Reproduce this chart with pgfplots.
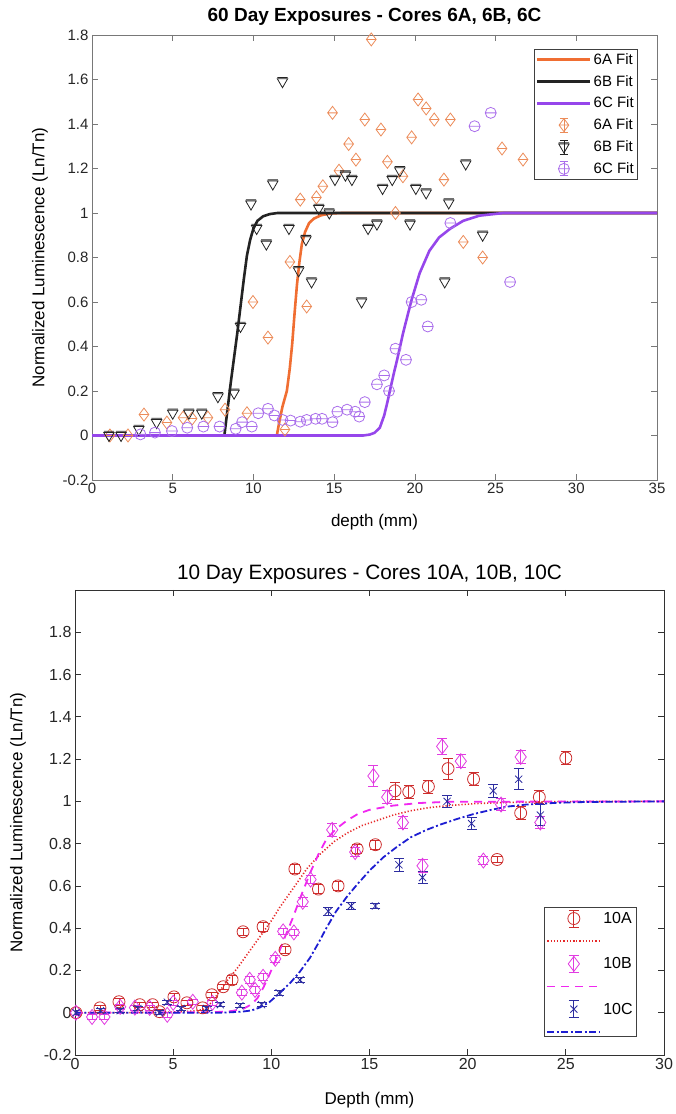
\documentclass[border=0pt]{standalone}
\usepackage{fontspec}
\setmainfont{Liberation Sans}
\usepackage{pgfplots}
\pgfplotsset{compat=1.18}

\definecolor{c6A}{RGB}{240,110,50}
\definecolor{c6Am}{RGB}{236,140,90}
\definecolor{c6B}{RGB}{35,35,35}
\definecolor{c6C}{RGB}{150,70,235}
\definecolor{c6Cm}{RGB}{170,110,235}
\definecolor{c10A}{RGB}{205,45,45}
\definecolor{c10B}{RGB}{225,60,225}
\definecolor{c10C}{RGB}{45,45,160}
\definecolor{l10A}{RGB}{230,40,40}
\definecolor{l10B}{RGB}{240,40,240}
\definecolor{l10C}{RGB}{30,30,210}
\definecolor{frameA}{RGB}{120,120,120}
\definecolor{frameB}{RGB}{50,50,50}

\pgfdeclareplotmark{diamondbar}{%
  \pgfpathmoveto{\pgfqpoint{0pt}{\pgfplotmarksize}}%
  \pgfpathlineto{\pgfqpoint{.75\pgfplotmarksize}{0pt}}%
  \pgfpathlineto{\pgfqpoint{0pt}{-\pgfplotmarksize}}%
  \pgfpathlineto{\pgfqpoint{-.75\pgfplotmarksize}{0pt}}%
  \pgfpathclose
  \pgfpathmoveto{\pgfqpoint{-.75\pgfplotmarksize}{0pt}}%
  \pgfpathlineto{\pgfqpoint{.75\pgfplotmarksize}{0pt}}%
  \pgfusepathqstroke}
\pgfdeclareplotmark{trianglebar}{%
  \pgfpathmoveto{\pgfqpoint{0pt}{-\pgfplotmarksize}}%
  \pgfpathlineto{\pgfqpoint{.866\pgfplotmarksize}{.5\pgfplotmarksize}}%
  \pgfpathlineto{\pgfqpoint{-.866\pgfplotmarksize}{.5\pgfplotmarksize}}%
  \pgfpathclose
  \pgfpathmoveto{\pgfpoint{-.866\pgfplotmarksize}{.5\pgfplotmarksize+1.3pt}}%
  \pgfpathlineto{\pgfpoint{.866\pgfplotmarksize}{.5\pgfplotmarksize+1.3pt}}%
  \pgfusepathqstroke}
\pgfdeclareplotmark{circlebar}{%
  \pgfpathcircle{\pgfpointorigin}{\pgfplotmarksize}%
  \pgfpathmoveto{\pgfqpoint{-\pgfplotmarksize}{0pt}}%
  \pgfpathlineto{\pgfqpoint{\pgfplotmarksize}{0pt}}%
  \pgfusepathqstroke}

\pgfplotsset{
  legend image code/.code={\draw[mark repeat=2,mark phase=2,#1] plot coordinates {(0pt,0pt) (26.5pt,0pt) (53pt,0pt)};},
  markleg/.style n args={3}{legend image code/.code={%
      \draw[##1] plot coordinates {(26.5pt,0pt)};
      \draw[#1,line width=0.8pt] (26.5pt,-#2) -- (26.5pt,#2)
        (26.5pt-#3,#2) -- (26.5pt+#3,#2) (26.5pt-#3,-#2) -- (26.5pt+#3,-#2);}},
  mystyle/.style={
    scale only axis,
    tick align=inside,
    major tick length=6pt,
    /pgf/number format/assume math mode=true,
    ytick={-0.2,0,0.2,0.4,0.6,0.8,1,1.2,1.4,1.6,1.8},
    yticklabels={-0.2,0,0.2,0.4,0.6,0.8,1,1.2,1.4,1.6,1.8},
    legend cell align=left,
  }
}

\begin{document}
\begin{tikzpicture}[x=1pt,y=1pt]
\path[use as bounding box] (0,0) rectangle (676,1114);

% ---------------- Top axis ----------------
\begin{axis}[mystyle,
  at={(92pt,634pt)}, anchor=south west,
  width=565pt, height=445pt,
  xmin=0, xmax=35, ymin=-0.2, ymax=1.8,
  xtick={0,5,...,35},
  axis line style={frameA,line width=0.7pt},
  tick style={frameA,line width=0.7pt},
  tick label style={font=\fontsize{15}{18}\selectfont, text=black!85},
  title={60 Day Exposures - Cores 6A, 6B, 6C},
  title style={font=\fontsize{19}{22}\selectfont\bfseries, at={(axis description cs:0.5,1)}, anchor=center, yshift=12pt},
  xlabel={depth (mm)},
  xlabel style={font=\fontsize{17}{20}\selectfont, at={(axis description cs:0.5,0)}, anchor=center, yshift=-42pt},
  ylabel={Normalized Luminescence (Ln/Tn)},
  ylabel style={font=\fontsize{17}{20}\selectfont, at={(axis description cs:-0.092,0.5)}, anchor=center},
  legend style={at={(axis description cs:0.782,0.9685)}, anchor=north west, draw=black!75, line width=0.6pt,
    font=\fontsize{15}{17}\selectfont, inner sep=2pt, row sep=5.5pt, fill=white},
]
\addplot[c6A, line width=2.6pt] coordinates {(0,0)(11.45,0)(11.6,0.06)(11.8,0.13)(12.07,0.2)(12.25,0.3)(12.4,0.41)(12.55,0.55)(12.7,0.68)(12.85,0.78)(13.0,0.86)(13.2,0.915)(13.45,0.955)(13.75,0.975)(14.2,0.99)(14.8,0.998)(15.5,1)(35,1)};
\addlegendentry{6A Fit}
\addplot[c6B, line width=2.6pt] coordinates {(0,0)(8.2,0)(8.3,0.06)(8.45,0.15)(8.6,0.24)(8.8,0.35)(9.0,0.46)(9.2,0.58)(9.4,0.70)(9.6,0.81)(9.8,0.88)(10.0,0.93)(10.25,0.965)(10.6,0.985)(11.0,0.995)(11.5,1)(35,1)};
\addlegendentry{6B Fit}
\addplot[c6C, line width=2.6pt] coordinates {(0,0)(16.8,0)(17.2,0.004)(17.5,0.012)(17.83,0.035)(18.1,0.09)(18.3,0.15)(18.45,0.2)(18.7,0.28)(18.9,0.34)(19.27,0.46)(19.55,0.54)(19.8,0.61)(20.3,0.73)(20.9,0.83)(21.5,0.89)(22.2,0.93)(23,0.965)(24,0.988)(25.5,1)(35,1)};
\addlegendentry{6C Fit}

\addplot[c6Am, only marks, mark=diamondbar, mark size=6.5pt, line width=0.8pt, markleg={c6Am}{7pt}{4pt}] coordinates {
(1.11,0.0)(2.23,0.0)(3.22,0.094)(4.64,0.058)(5.64,0.08)(6.2,0.076)(7.18,0.08)(8.24,0.116)(9.6,0.10)(9.97,0.60)(10.9,0.44)(11.95,0.027)(12.26,0.78)(12.9,1.06)(13.3,0.58)(13.9,1.07)(14.3,1.12)(14.9,1.45)(15.3,1.19)(15.9,1.31)(16.35,1.24)(16.9,1.42)(17.3,1.78)(17.9,1.375)(18.3,1.23)(18.8,1.0)(19.26,1.165)(19.8,1.34)(20.2,1.51)(20.7,1.47)(21.2,1.42)(21.8,1.15)(22.2,1.42)(23.0,0.87)(24.2,0.80)(25.4,1.29)(26.7,1.24)};
\addlegendentry{6A Fit}
\addplot[c6B, only marks, mark=trianglebar, mark size=6pt, line width=0.8pt, markleg={c6B}{7pt}{4pt}] coordinates {
(1.05,0.0)(1.8,0.0)(2.9,0.027)(4.0,0.058)(5.0,0.10)(6.0,0.10)(6.8,0.10)(7.8,0.174)(8.8,0.19)(9.2,0.49)(9.85,1.04)(10.2,0.93)(10.8,0.86)(11.2,1.13)(11.8,1.59)(12.2,0.93)(12.8,0.74)(13.25,0.88)(13.6,0.69)(14.05,1.02)(14.7,1.0)(15.05,1.15)(15.7,1.17)(16.1,1.15)(16.7,0.60)(17.1,0.93)(17.65,0.95)(18.0,1.11)(18.6,1.15)(19.07,1.19)(19.7,0.95)(20.06,1.11)(20.7,1.09)(21.85,0.69)(22.1,1.045)(23.15,1.22)(24.2,0.90)};
\addlegendentry{6B Fit}
\addplot[c6Cm, only marks, mark=circlebar, mark size=5.5pt, line width=0.8pt, markleg={c6Cm}{7pt}{4pt}] coordinates {
(3.0,0.005)(3.9,0.013)(4.95,0.02)(5.9,0.035)(6.9,0.04)(7.9,0.04)(8.9,0.03)(9.3,0.06)(9.9,0.04)(10.3,0.10)(10.9,0.12)(11.3,0.09)(11.8,0.07)(12.3,0.067)(12.9,0.062)(13.3,0.07)(13.85,0.075)(14.25,0.075)(14.9,0.06)(15.2,0.107)(15.8,0.116)(16.3,0.107)(16.55,0.085)(16.9,0.15)(17.65,0.23)(18.1,0.27)(18.4,0.2)(18.8,0.39)(19.45,0.34)(19.8,0.60)(20.4,0.61)(20.8,0.49)(22.2,0.955)(23.7,1.39)(24.7,1.45)(25.9,0.69)};
\addlegendentry{6C Fit}
\end{axis}

% ---------------- Bottom axis ----------------
\begin{axis}[mystyle,
  at={(75pt,59pt)}, anchor=south west,
  width=589pt, height=465pt,
  xmin=0, xmax=30, ymin=-0.2, ymax=2,
  xtick={0,5,...,30},
  axis line style={frameB,line width=0.7pt},
  tick style={frameB,line width=0.7pt},
  tick label style={font=\fontsize{16}{19}\selectfont, text=black!85},
  title={10 Day Exposures - Cores 10A, 10B, 10C},
  title style={font=\fontsize{20.8}{24}\selectfont, at={(axis description cs:0.5,1)}, anchor=center, yshift=10pt},
  xlabel={Depth (mm)},
  xlabel style={font=\fontsize{17}{20}\selectfont, at={(axis description cs:0.5,0)}, anchor=center, yshift=-45pt},
  ylabel={Normalized Luminescence (Ln/Tn)},
  ylabel style={font=\fontsize{17}{20}\selectfont, at={(axis description cs:-0.097,0.5)}, anchor=center},
  legend style={at={(axis description cs:0.954,0.039)}, anchor=south east, draw=black!75, line width=0.6pt,
    font=\fontsize{16}{18}\selectfont, inner sep=2pt, row sep=11pt, fill=white},
  error bars/error mark options={rotate=90, mark size=5pt, line width=0.8pt},
  error bars/error bar style={line width=0.8pt},
]
\addplot[c10A, only marks, mark=o, mark size=6pt, line width=0.8pt, markleg={c10A}{8.5pt}{5pt},
  error bars/.cd, y dir=both, y explicit] coordinates {
(0.05,0.0) +- (0,0.012) (1.27,0.023) +- (0,0.012) (2.24,0.052) +- (0,0.015) (3.3,0.038) +- (0,0.012) (3.95,0.038) +- (0,0.012)
(4.3,0.005) +- (0,0.012) (5.04,0.075) +- (0,0.015) (5.7,0.047) +- (0,0.012) (6.5,0.023) +- (0,0.012) (6.97,0.085) +- (0,0.012)
(7.55,0.123) +- (0,0.012) (8.0,0.156) +- (0,0.02) (8.56,0.383) +- (0,0.015) (9.58,0.407) +- (0,0.02) (10.7,0.298) +- (0,0.015)
(11.2,0.68) +- (0,0.02) (12.4,0.585) +- (0,0.02) (13.4,0.60) +- (0,0.02) (14.37,0.775) +- (0,0.02) (15.3,0.795) +- (0,0.02)
(16.3,1.05) +- (0,0.04) (17.0,1.045) +- (0,0.03) (18.0,1.07) +- (0,0.03) (19.0,1.155) +- (0,0.05) (20.3,1.105) +- (0,0.03)
(21.5,0.725) +- (0,0.015) (22.7,0.945) +- (0,0.03) (23.65,1.02) +- (0,0.03) (25.0,1.205) +- (0,0.03)};
\addlegendentry{10A}
\addplot[l10A, line width=1.6pt, dash pattern=on 1.2pt off 2pt] coordinates {
(0,0)(4,0.001)(5,0.003)(6,0.008)(6.5,0.015)(6.7,0.02)(7.2,0.08)(7.74,0.15)(8.3,0.215)(8.8,0.28)(9.5,0.37)(10.0,0.435)(10.44,0.50)(11.2,0.60)(11.8,0.68)(12.48,0.75)(13.2,0.81)(13.86,0.85)(14.6,0.885)(15.4,0.91)(16.2,0.935)(17.07,0.955)(18,0.97)(19,0.98)(20.5,0.99)(22,0.995)(25,0.999)(30,1)};
\addlegendentry{\mbox{}}
\addplot[c10B, only marks, mark=diamond, mark size=7.5pt, line width=0.8pt, markleg={c10B}{8.5pt}{5pt},
  error bars/.cd, y dir=both, y explicit] coordinates {
(0.05,0.0) +- (0,0.012) (0.87,-0.02) +- (0,0.012) (1.5,-0.02) +- (0,0.012) (2.3,0.028) +- (0,0.012) (3.05,0.024) +- (0,0.012)
(3.8,0.023) +- (0,0.012) (4.7,-0.01) +- (0,0.012) (5.0,0.047) +- (0,0.012) (6.0,0.052) +- (0,0.012) (7.0,0.047) +- (0,0.012)
(8.5,0.095) +- (0,0.015) (8.9,0.156) +- (0,0.015) (9.17,0.108) +- (0,0.015) (9.58,0.17) +- (0,0.015) (10.2,0.255) +- (0,0.015)
(10.6,0.385) +- (0,0.015) (11.15,0.38) +- (0,0.015) (11.6,0.525) +- (0,0.02) (12.0,0.63) +- (0,0.02) (13.1,0.865) +- (0,0.03)
(14.27,0.76) +- (0,0.02) (15.2,1.12) +- (0,0.05) (15.9,1.02) +- (0,0.03) (16.7,0.90) +- (0,0.03) (17.7,0.695) +- (0,0.03)
(18.7,1.26) +- (0,0.04) (19.65,1.19) +- (0,0.03) (20.8,0.72) +- (0,0.02) (21.7,0.985) +- (0,0.03) (22.7,1.21) +- (0,0.03)
(23.7,0.90) +- (0,0.03)};
\addlegendentry{10B}
\addplot[l10B, line width=1.8pt, dash pattern=on 8pt off 6pt] coordinates {
(0,0)(7,0.002)(8,0.008)(8.6,0.02)(9.0,0.04)(9.3,0.07)(9.6,0.12)(9.9,0.18)(10.3,0.265)(10.7,0.36)(11.1,0.45)(11.5,0.55)(11.97,0.66)(12.4,0.75)(12.8,0.82)(13.3,0.87)(13.86,0.91)(14.4,0.94)(15,0.96)(16.2,0.98)(17.5,0.992)(19,0.998)(30,1)};
\addlegendentry{\mbox{}}
\addplot[c10C, only marks, mark=x, mark size=5pt, line width=0.8pt, markleg={c10C}{8.5pt}{5pt},
  error bars/.cd, y dir=both, y explicit] coordinates {
(0.05,0.0) +- (0,0.01) (1.3,0.01) +- (0,0.01) (2.3,0.01) +- (0,0.01) (3.2,0.02) +- (0,0.01) (4.3,0.0) +- (0,0.01)
(4.7,0.05) +- (0,0.01) (5.4,0.02) +- (0,0.01) (6.7,0.02) +- (0,0.01) (7.4,0.038) +- (0,0.01) (8.4,0.033) +- (0,0.01)
(9.5,0.038) +- (0,0.01) (10.4,0.094) +- (0,0.01) (11.46,0.155) +- (0,0.01) (12.9,0.48) +- (0,0.02) (14.06,0.505) +- (0,0.015)
(15.3,0.505) +- (0,0.01) (16.5,0.70) +- (0,0.03) (17.7,0.64) +- (0,0.03) (18.95,1.0) +- (0,0.03) (20.2,0.895) +- (0,0.03)
(21.3,1.05) +- (0,0.03) (22.6,1.105) +- (0,0.05) (23.7,0.935) +- (0,0.05)};
\addlegendentry{10C}
\addplot[l10C, line width=1.8pt, dash pattern=on 7pt off 2.5pt on 2pt off 2.5pt] coordinates {
(0,0)(7.5,0)(8.5,0.005)(9.0,0.011)(9.42,0.025)(9.9,0.05)(10.44,0.094)(11.0,0.145)(11.46,0.195)(11.97,0.26)(12.4,0.33)(12.8,0.40)(13.3,0.48)(13.86,0.55)(14.4,0.61)(15.03,0.675)(15.7,0.735)(16.4,0.785)(17.1,0.83)(17.9,0.865)(18.6,0.89)(19.4,0.915)(20.3,0.94)(21.2,0.96)(22,0.975)(23,0.985)(24.5,0.993)(26,0.997)(30,1)};
\addlegendentry{\mbox{}}
\end{axis}
\end{tikzpicture}
\end{document}
